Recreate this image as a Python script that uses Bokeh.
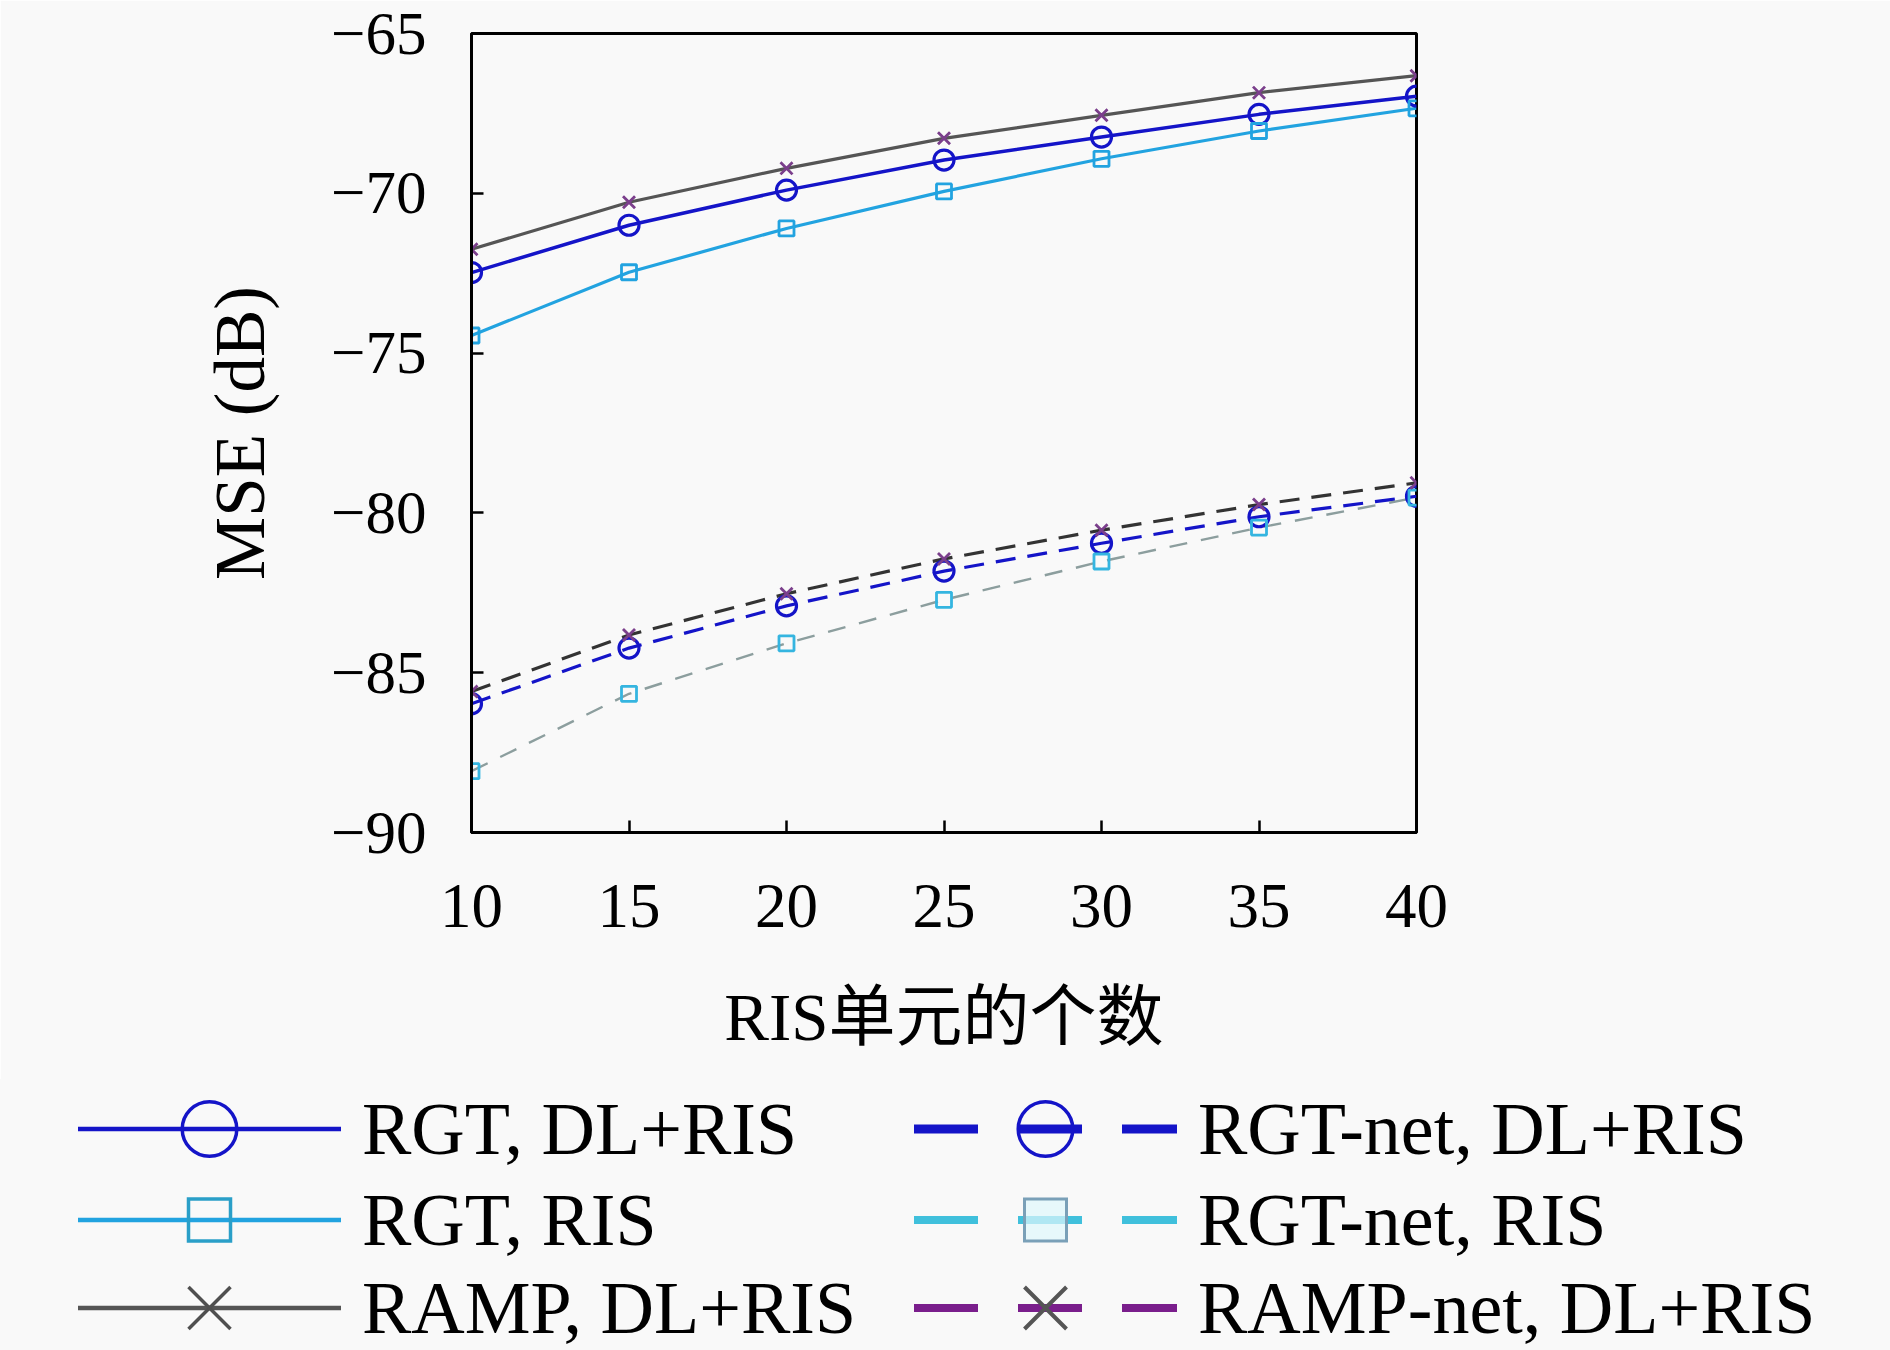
from html import escape
from bokeh.plotting import figure
from bokeh.models import FixedTicker, Range1d, Div
from bokeh.layouts import column
from bokeh.embed import file_html
from bokeh.resources import INLINE

# ---------------- data ----------------
num_elements = [10, 15, 20, 25, 30, 35, 40]

rgt_dl_ris = [-72.48, -71.0, -69.9, -68.96, -68.24, -67.53, -66.96]
rgt_ris = [-74.45, -72.47, -71.1, -69.94, -68.92, -68.05, -67.34]
ramp_dl_ris = [-71.75, -70.28, -69.22, -68.28, -67.56, -66.85, -66.32]
rgtnet_dl_ris = [-85.97, -84.23, -82.91, -81.82, -80.95, -80.12, -79.48]
rgtnet_ris = [-88.08, -85.66, -84.08, -82.72, -81.52, -80.46, -79.52]
rampnet_dl_ris = [-85.59, -83.82, -82.53, -81.44, -80.54, -79.74, -79.06]

series_labels = [
    "RGT, DL+RIS", "RGT, RIS", "RAMP, DL+RIS",
    "RGT-net, DL+RIS", "RGT-net, RIS", "RAMP-net, DL+RIS",
]

x_ticks = [10, 15, 20, 25, 30, 35, 40]
x_tick_labels = ["10", "15", "20", "25", "30", "35", "40"]
y_ticks = [-90, -85, -80, -75, -70, -65]
y_tick_labels = ["\u221290", "\u221285", "\u221280", "\u221275", "\u221270", "\u221265"]

x_label = "RIS单元的个数"
y_label = "MSE (dB)"

# ---------------- styles ----------------
SERIF = "'Liberation Serif', 'DejaVu Serif', serif"
CJK = "'Liberation Serif', 'Noto Sans CJK SC', serif"
BG = "#f9f9f9"

series_values = [rgt_dl_ris, rgt_ris, ramp_dl_ris, rgtnet_dl_ris, rgtnet_ris, rampnet_dl_ris]

plot_styles = [
    dict(lc="#1414c8", lw=3.5, dash="solid", m="circle", ms=20, mc="#1414c8", mlw=3.2, mf=None),
    dict(lc="#22a3e0", lw=3.2, dash="solid", m="square", ms=15, mc="#22a3e0", mlw=2.8, mf=None),
    dict(lc="#555555", lw=3.2, dash="solid", m="x", ms=17, mc="#7b3f8c", mlw=2.8, mf=None),
    dict(lc="#1414c8", lw=3.2, dash="20 12", m="circle", ms=20, mc="#1414c8", mlw=3.2, mf=None),
    dict(lc="#8c9e9e", lw=2.4, dash="18 14", m="square", ms=15, mc="#35b5e0", mlw=2.8, mf=None),
    dict(lc="#333333", lw=3.2, dash="20 12", m="x", ms=17, mc="#7b3f8c", mlw=2.8, mf=None),
]

legend_styles = [
    dict(lc="#1414c8", lw=4.5, dash=None, m="circle", mc="#1414c8", mlw=3.5, mf="none"),
    dict(lc="#22a3e0", lw=4.5, dash=None, m="square", mc="#2a9fc8", mlw=3.5, mf="none"),
    dict(lc="#555555", lw=4.5, dash=None, m="x", mc="#4f4f4f", mlw=3.5, mf="none"),
    dict(lc="#1414c8", lw=9, dash="64 40", m="circle", mc="#1414c8", mlw=3.5, mf="none"),
    dict(lc="#40c0dc", lw=8, dash="64 40", m="square", mc="#7aa0b8", mlw=3.0, mf="#e0f8fc"),
    dict(lc="#7a1e8c", lw=8, dash="64 40", m="x", mc="#555555", mlw=4.0, mf="none"),
]

# ---------------- main chart ----------------
p = figure(
    frame_width=945, frame_height=799,
    min_border_left=471, min_border_right=474, min_border_top=33, min_border_bottom=247,
    x_range=Range1d(10, 40), y_range=Range1d(-90, -65),
    output_backend="svg", toolbar_location=None,
    background_fill_color=BG, border_fill_color=BG,
)

p.xgrid.visible = False
p.ygrid.visible = False
p.outline_line_color = "black"
p.outline_line_width = 3

for ax in (p.xaxis[0], p.yaxis[0]):
    ax.axis_line_width = 3
    ax.axis_line_color = "black"
    ax.major_tick_in = 12
    ax.major_tick_out = 0
    ax.major_tick_line_width = 2.5
    ax.minor_tick_line_color = None
    ax.major_label_text_font = SERIF
    ax.major_label_text_color = "black"
    ax.axis_label_text_font_style = "normal"
    ax.axis_label_text_color = "black"

p.xaxis.ticker = FixedTicker(ticks=x_ticks)
p.xaxis.major_label_overrides = dict(zip(x_ticks, x_tick_labels))
p.xaxis.major_label_text_font_size = "63px"
p.xaxis.major_label_standoff = 52
p.xaxis.axis_label = x_label
p.xaxis.axis_label_text_font = CJK
p.xaxis.axis_label_text_font_size = "67px"
p.xaxis.axis_label_standoff = 50

p.yaxis.ticker = FixedTicker(ticks=y_ticks)
p.yaxis.major_label_overrides = dict(zip(y_ticks, y_tick_labels))
p.yaxis.major_label_text_font_size = "61px"
p.yaxis.major_label_standoff = 45
p.yaxis.axis_label = y_label
p.yaxis.axis_label_text_font = SERIF
p.yaxis.axis_label_text_font_size = "71px"
p.yaxis.axis_label_standoff = 49

for vals, st in zip(series_values, plot_styles):
    p.line(num_elements, vals, line_color=st["lc"], line_width=st["lw"], line_dash=st["dash"])
for vals, st in zip(series_values, plot_styles):
    p.scatter(num_elements, vals, marker=st["m"], size=st["ms"], line_color=st["mc"],
              line_width=st["mlw"], fill_color=st["mf"])

# ---------------- legend (two columns, three rows) below the chart ----------------
LEG_W, LEG_H = 1890, 271
col_x = [78, 914]          # left edge of each column's swatch
row_y = [50, 141, 229]     # centre line of each row
SW_W, TXT_GAP, MK = 263, 21, 42

parts = [f'<svg xmlns="http://www.w3.org/2000/svg" width="{LEG_W}" height="{LEG_H}" '
         f'style="display:block;background:{BG}">']
for i, (lab, st) in enumerate(zip(series_labels, legend_styles)):
    x0, cy = col_x[i // 3], row_y[i % 3]
    cx = x0 + SW_W / 2
    dash = f' stroke-dasharray="{st["dash"]}"' if st["dash"] else ""
    parts.append(f'<line x1="{x0}" y1="{cy}" x2="{x0 + SW_W}" y2="{cy}" stroke="{st["lc"]}" '
                 f'stroke-width="{st["lw"]}"{dash}/>')
    if st["m"] == "circle":
        parts.append(f'<circle cx="{cx}" cy="{cy}" r="{MK * 0.65}" fill="{st["mf"]}" '
                     f'stroke="{st["mc"]}" stroke-width="{st["mlw"]}"/>')
    elif st["m"] == "square":
        parts.append(f'<rect x="{cx - MK / 2}" y="{cy - MK / 2}" width="{MK}" height="{MK}" '
                     f'fill="{st["mf"]}" fill-opacity="0.7" stroke="{st["mc"]}" '
                     f'stroke-width="{st["mlw"]}"/>')
    else:
        h = MK / 2
        parts.append(f'<path d="M{cx - h},{cy - h}L{cx + h},{cy + h}M{cx - h},{cy + h}L{cx + h},{cy - h}" '
                     f'stroke="{st["mc"]}" stroke-width="{st["mlw"]}" fill="none"/>')
    parts.append(f'<text x="{x0 + SW_W + TXT_GAP}" y="{cy + 25}" '
                 f'style="font-family:{SERIF};font-size:74px;font-weight:normal;fill:black">'
                 f'{escape(lab)}</text>')
parts.append("</svg>")

legend_div = Div(text="".join(parts), width=LEG_W, height=LEG_H,
                 styles={"margin": "0", "padding": "0", "background": BG,
                         "font-family": SERIF})

layout = column(p, legend_div, spacing=0)
open("out.html", "w").write(file_html(layout, INLINE))
